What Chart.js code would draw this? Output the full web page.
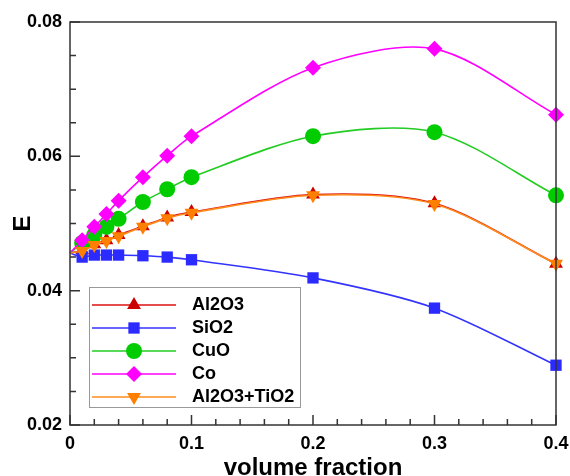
<!DOCTYPE html>
<html>
<head>
<meta charset="utf-8">
<script src="https://cdn.jsdelivr.net/npm/chart.js@4.4.1/dist/chart.umd.min.js"></script>
<style>
  html, body { margin: 0; padding: 0; background: #fff; }
  #wrap { width: 570px; height: 476px; }
</style>
</head>
<body>
<div id="wrap"><canvas id="chart"></canvas></div>
<script>
// volume fraction (first point only anchors the fitted curve at the axis)
const fractions = [0, 0.01, 0.02, 0.03, 0.04, 0.06, 0.08, 0.1, 0.2, 0.3, 0.4];
const al2o3    = [0.0456, 0.0460, 0.0469, 0.0475, 0.0483, 0.0496, 0.0509, 0.0517, 0.0543, 0.0530, 0.0440];
const sio2     = [0.0456, 0.0450, 0.0453, 0.0453, 0.0453, 0.0452, 0.0450, 0.0446, 0.0419, 0.0374, 0.0289];
const cuo      = [0.0456, 0.0471, 0.0483, 0.0495, 0.0507, 0.0532, 0.0551, 0.0569, 0.0630, 0.0636, 0.0542];
const co       = [0.0456, 0.0475, 0.0495, 0.0514, 0.0534, 0.0569, 0.0601, 0.0630, 0.0732, 0.0760, 0.0662];
const al2o3Ti  = [0.0456, 0.0459, 0.0468, 0.0474, 0.0481, 0.0495, 0.0508, 0.0516, 0.0542, 0.0529, 0.0440];

const labels = ["Al2O3", "SiO2", "CuO", "Co", "Al2O3+TiO2"];
const yTicksMajor = [0.02, 0.04, 0.06, 0.08];
const xTicksMajor = [0, 0.1, 0.2, 0.3, 0.4];

const FONT = "'Liberation Sans', Arial, sans-serif";

function toPoints(arr) {
  return fractions.map((x, i) => ({ x: x, y: arr[i] }));
}
function radii(r) {
  return fractions.map(x => (x === 0 ? 0 : r));
}

function makeSet(label, values, line, fill, style, r, rot, order) {
  return {
    label: label,
    data: toPoints(values),
    borderColor: line,
    backgroundColor: fill,
    borderWidth: 1.6,
    pointStyle: style,
    pointRotation: rot,
    pointRadius: radii(r),
    pointHoverRadius: radii(r),
    pointBackgroundColor: fill,
    pointBorderColor: fill,
    pointBorderWidth: 0,
    tension: 0.3,
    fill: false,
    clip: false,
    order: order
  };
}

// inward ticks + full frame
const frameTicks = {
  id: "frameTicks",
  afterDraw(chart) {
    const ctx = chart.ctx;
    const a = chart.chartArea;
    const xs = chart.scales.x, ys = chart.scales.y;
    ctx.save();
    ctx.strokeStyle = "#333";
    ctx.lineWidth = 1.5;
    ctx.strokeRect(a.left, a.top, a.right - a.left, a.bottom - a.top);
    ctx.beginPath();
    ys.ticks.forEach(t => {
      const p = ys.getPixelForValue(t.value);
      const major = yTicksMajor.some(m => Math.abs(m - t.value) < 1e-9);
      ctx.moveTo(a.left, p);
      ctx.lineTo(a.left + (major ? 10 : 6), p);
    });
    xs.ticks.forEach(t => {
      const p = xs.getPixelForValue(t.value);
      const major = xTicksMajor.some(m => Math.abs(m - t.value) < 1e-9);
      ctx.moveTo(p, a.bottom);
      ctx.lineTo(p, a.bottom - (major ? 10 : 6));
    });
    ctx.stroke();
    ctx.restore();
  }
};

// legend box with line + marker, inside the plot
const boxLegend = {
  id: "boxLegend",
  afterDraw(chart) {
    const ctx = chart.ctx;
    const a = chart.chartArea;
    const x0 = a.left + 19, y0 = 287, w = 211, h = 120;
    ctx.save();
    ctx.fillStyle = "#fff";
    ctx.fillRect(x0, y0, w, h);
    ctx.strokeStyle = "#999";
    ctx.lineWidth = 1;
    ctx.strokeRect(x0 + 0.5, y0 + 0.5, w, h);
    chart.data.datasets.forEach((ds, i) => {
      const y = y0 + 18 + i * 23;
      ctx.strokeStyle = ds.borderColor;
      ctx.lineWidth = 1.6;
      ctx.beginPath();
      ctx.moveTo(x0 + 3, y);
      ctx.lineTo(x0 + 87, y);
      ctx.stroke();
      ctx.fillStyle = ds.pointBackgroundColor;
      ctx.strokeStyle = ds.pointBorderColor;
      ctx.lineWidth = 0;
      Chart.helpers.drawPoint(ctx, {
        pointStyle: ds.pointStyle,
        rotation: ds.pointRotation,
        radius: ds.pointRadius[1],
        borderWidth: 0
      }, x0 + 45, y);
      ctx.fillStyle = "#000";
      ctx.font = "bold 18px " + FONT;
      ctx.textBaseline = "middle";
      ctx.textAlign = "left";
      ctx.fillText(ds.label, x0 + 103, y);
    });
    ctx.restore();
  }
};

new Chart(document.getElementById("chart"), {
  type: "line",
  data: {
    datasets: [
      makeSet(labels[0], al2o3, "#dd1111", "#cc0000", "triangle", 8, 0, 5),
      makeSet(labels[1], sio2, "#3333ff", "#2b2bff", "rect", 8, 0, 4),
      makeSet(labels[2], cuo, "#22cc22", "#00cc00", "circle", 8, 0, 3),
      makeSet(labels[3], co, "#ff00ff", "#ff00ff", "rectRot", 8, 0, 2),
      makeSet(labels[4], al2o3Ti, "#ff8c1a", "#ff7f00", "triangle", 8, 180, 1)
    ]
  },
  options: {
    responsive: true,
    maintainAspectRatio: false,
    animation: false,
    layout: { padding: { top: 22, right: 14, left: 0, bottom: 0 } },
    plugins: {
      legend: { display: false },
      tooltip: { enabled: false }
    },
    scales: {
      x: {
        type: "linear",
        min: 0,
        max: 0.4,
        afterFit: s => { s.height = 51; s.paddingRight = 0; s.paddingLeft = 0; },
        grid: { drawOnChartArea: false, drawTicks: false },
        border: { display: false },
        ticks: {
          stepSize: 0.02,
          autoSkip: false,
          maxRotation: 0,
          padding: 8,
          color: "#000",
          font: { family: FONT, size: 18, weight: "bold" },
          callback: v => (Math.round(v * 100) % 10 === 0 ? String(Math.round(v * 10) / 10) : "")
        },
        title: {
          display: true,
          text: "volume fraction",
          color: "#000",
          padding: { top: 4, bottom: -4 },
          font: { family: FONT, size: 24, weight: "bold", lineHeight: 1 }
        }
      },
      y: {
        type: "linear",
        min: 0.02,
        max: 0.08,
        afterFit: s => { s.width = 70; s.paddingTop = 0; s.paddingBottom = 0; },
        grid: { drawOnChartArea: false, drawTicks: false },
        border: { display: false },
        ticks: {
          stepSize: 0.005,
          autoSkip: false,
          padding: 8,
          color: "#000",
          font: { family: FONT, size: 18, weight: "bold" },
          callback: v => (Math.round(v * 1000) % 20 === 0 ? v.toFixed(2) : "")
        },
        title: {
          display: true,
          text: "E",
          color: "#000",
          padding: { top: 9, bottom: 0 },
          font: { family: FONT, size: 24, weight: "bold" }
        }
      }
    }
  },
  plugins: [frameTicks, boxLegend]
});
</script>
</body>
</html>
